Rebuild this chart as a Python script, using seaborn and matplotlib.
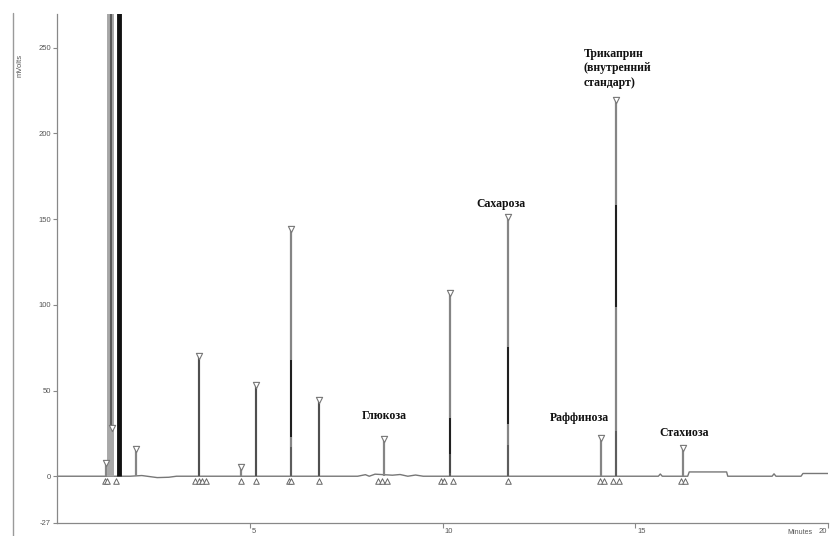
import numpy as np
import pandas as pd
import matplotlib.pyplot as plt
import seaborn as sns
from matplotlib.lines import Line2D
from matplotlib.transforms import ScaledTranslation

# ==============================================================================
# Данные хроматограммы (время, мин / сигнал, мВ)
# ==============================================================================
peak_time = [1.28, 1.38, 1.42, 1.62, 2.06, 3.68, 4.78, 5.15, 6.06, 6.80,
             8.47, 10.19, 11.70, 14.12, 14.51, 16.24]
peak_height = [8, 400, 28, 400, 16, 70, 5.5, 53, 144, 44.5,
               21.8, 107, 151, 22.5, 219.5, 16.4]

# метки начала/конца пиков на базовой линии
base_mark_time = [1.24, 1.29, 1.52, 3.58, 3.68, 3.77, 3.86, 4.77, 5.15,
                  6.02, 6.07, 6.79, 8.33, 8.44, 8.55, 9.95, 10.04, 10.27,
                  11.69, 14.08, 14.18, 14.42, 14.57, 16.18, 16.28]

# базовая линия с мелким шумом
base_time = [0.0, 1.9, 2.2, 2.6, 2.9, 3.1, 3.3, 7.8, 8.0, 8.1, 8.25, 8.7,
             8.9, 9.1, 9.3, 9.5, 15.6, 15.65, 15.7, 16.36, 16.4, 17.37,
             17.4, 18.55, 18.6, 18.65, 19.3, 19.35, 20.0]
base_value = [0.0, 0.0, 0.4, -0.8, -0.6, 0.0, 0.0, 0.0, 0.9, 0.0, 1.2, 0.6,
              1.0, 0.0, 0.7, 0.0, 0.0, 1.3, 0.0, 0.0, 2.5, 2.5,
              0.0, 0.0, 1.4, 0.0, 0.0, 1.6, 1.6]

labels = ["Глюкоза", "Сахароза", "Раффиноза", "Стахиоза",
          "Трикаприн\n(внутренний\nстандарт)"]
label_x = [8.48, 11.52, 13.55, 16.26, 13.66]
label_y = [35, 159, 34, 25, 250]

y_ticks = [-27, 0, 50, 100, 150, 200, 250]
x_ticks = [5, 10, 15, 20]

# ==============================================================================
# Оформление
# ==============================================================================
sns.set_style("white")
plt.rcParams['font.family'] = ['Liberation Sans', 'DejaVu Sans']

fig = plt.figure(figsize=(8.31, 5.36), dpi=100)
ax = fig.add_axes([57 / 831, 13.5 / 536, (828 - 57) / 831, (522.5 - 13.5) / 536])

# базовая линия
base_df = pd.DataFrame({'t': base_time, 'v': base_value})
sns.lineplot(data=base_df, x='t', y='v', ax=ax, color='#777777', lw=1.0,
             estimator=None, sort=False)

# пики
peaks = pd.DataFrame({'t': peak_time, 'h': peak_height})
small = peaks[peaks['h'] < 270]
big = peaks[peaks['h'] >= 270]

ax.vlines(small['t'], 0, small['h'], color='#858585', lw=1.6, zorder=3)
mid = small[(small['h'] > 40) & (small['h'] <= 100)]
ax.vlines(mid['t'], 0, mid['h'], color='#4a4a4a', lw=1.3, zorder=4)

# тёмные участки у крупных пиков (доли высоты)
tall = small[small['h'] > 100]
dark_lo = [0.16, 0.02, 0.20, 0.45]
dark_hi = [0.47, 0.32, 0.50, 0.72]
ax.vlines(tall['t'], tall['h'] * np.array(dark_lo), tall['h'] * np.array(dark_hi),
          color='#1e1e1e', lw=1.4, zorder=4)
ax.vlines(tall['t'], 0, tall['h'] * 0.12, color='#555555', lw=1.2, zorder=4)

# пик растворителя (зашкаливает)
solvent_lw = [5.0, 3.5]
solvent_col = ['#a8a8a8', '#111111']
for (t, h), lw, c in zip(big[['t', 'h']].values, solvent_lw, solvent_col):
    ax.vlines(t, 0, h, color=c, lw=lw, zorder=3)
ax.vlines(big['t'].iloc[0] + 0.03, 30, 400, color='#5a5a5a', lw=1.5, zorder=4)

# маркеры вершин и границ пиков
sns.scatterplot(data=small, x='t', y='h', ax=ax, marker='v', s=20,
                facecolor='white', edgecolor='#777777', linewidth=0.8, zorder=5)
base_marks = pd.DataFrame({'t': base_mark_time, 'y': -2.6})
sns.scatterplot(data=base_marks, x='t', y='y', ax=ax, marker='^', s=16,
                facecolor='white', edgecolor='#666666', linewidth=0.7, zorder=5)

# подписи пиков
for txt, x, y in zip(labels, label_x, label_y):
    if '\n' in txt:
        ax.text(x, y, txt, ha='left', va='top', fontsize=8.5, fontweight='bold',
                family='Liberation Serif', linespacing=1.3, color='#111111')
    else:
        ax.text(x, y, txt, ha='center', va='center', fontsize=8.5,
                fontweight='bold', family='Liberation Serif', color='#111111')

# оси
ax.set_xlim(0, 20)
ax.set_ylim(-27, 270)
ax.set_xticks(x_ticks)
ax.set_xticklabels([str(v) for v in x_ticks])
ax.set_yticks(y_ticks)
ax.set_yticklabels([str(v) for v in y_ticks])
ax.set_xlabel('')
ax.set_ylabel('')

for s in ['top', 'right']:
    ax.spines[s].set_visible(False)
for s in ['left', 'bottom']:
    ax.spines[s].set_color('#888888')
    ax.spines[s].set_linewidth(0.9)

ax.tick_params(axis='y', direction='out', length=3, width=0.8, color='#888888',
               labelsize=5.5, labelcolor='#555555', pad=1.5, left=True)
ax.tick_params(axis='x', direction='out', length=3.5, width=0.8, color='#888888',
               labelsize=5.5, labelcolor='#555555', pad=0.5, bottom=True)
xlabels = ax.get_xticklabels()
for lbl in xlabels[:-1]:
    lbl.set_horizontalalignment('left')
    lbl.set_transform(lbl.get_transform() + ScaledTranslation(1.5 / 72, 0, fig.dpi_scale_trans))
# последняя подпись у края — сдвигаем влево, чтобы не обрезалась
xlabels[-1].set_horizontalalignment('right')
xlabels[-1].set_transform(xlabels[-1].get_transform() + ScaledTranslation(-0.5 / 72, 0, fig.dpi_scale_trans))

fig.text(20 / 831, 1 - 65 / 536, 'mVolts', rotation=90, ha='center', va='center',
         fontsize=5.5, color='#555555')
fig.text(800 / 831, 1 - 533 / 536, 'Minutes', ha='center', va='center',
         fontsize=5, color='#555555')

# рамка слева
fig.add_artist(Line2D([13 / 831, 13 / 831], [0, 1 - 13 / 536],
                      color='#9a9a9a', lw=1.0))

fig.savefig('out.png', dpi=100)
